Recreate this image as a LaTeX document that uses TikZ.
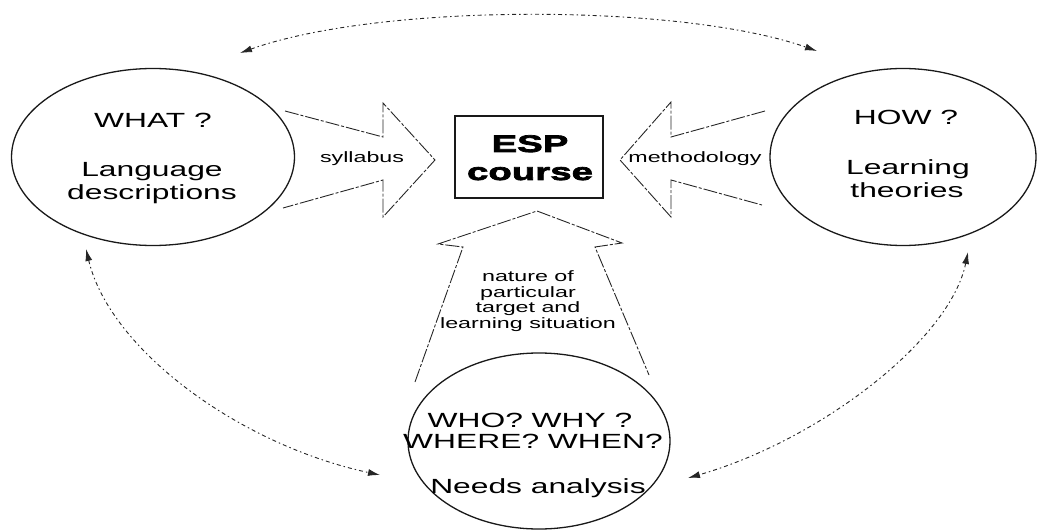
\documentclass[tikz,border=0pt]{standalone}
\usepackage{fontspec}
\setmainfont{Liberation Sans}
\newfontfamily\widefont[FakeStretch=1.55]{Liberation Sans}
\newfontfamily\heavyfont[FakeStretch=1.6,FakeBold=3]{Liberation Sans}
\usetikzlibrary{shapes.geometric,arrows.meta}

\begin{document}
\begin{tikzpicture}[x=1pt,y=-1pt,
  topic/.style={draw=black!90, line width=1.3pt, ellipse, inner sep=0pt},
  big/.style={font=\widefont\fontsize{20.5}{24}\selectfont, anchor=base, inner sep=0pt},
  small/.style={font=\widefont\fontsize{15}{15.5}\selectfont, inner sep=0pt},
  heavy/.style={font=\heavyfont\bfseries\fontsize{24}{28}\selectfont, anchor=base, inner sep=0pt},
  blockarrow/.style={draw=black!85, line width=0.9pt, line join=miter,
    dash pattern=on 14pt off 2pt on 3pt off 2pt},
  link/.style={draw=black!85, line width=0.9pt,
    dash pattern=on 4pt off 3pt on 1.5pt off 3pt,
    {Latex[length=12pt,width=7pt]}-{Latex[length=12pt,width=7pt]}}
]
\useasboundingbox (0,0) rectangle (1037,532);

% the three sources
\node[topic, minimum width=283pt, minimum height=177pt] (what) at (153,157) {};
\node[topic, minimum width=266pt, minimum height=177pt] (how) at (903,157) {};
\node[topic, minimum width=262pt, minimum height=176pt] (who) at (539,441) {};

\node[big] (whatq) at (153,128) {WHAT ?};
\node[big] (lang) at (152,177) {Language};
\node[big] (desc) at (152,200) {descriptions};

\node[big] (howq) at (906,125) {HOW ?};
\node[big] (learn) at (908,175) {Learning};
\node[big] (theo) at (907,197) {theories};

\node[big] (whoq) at (530,427) {WHO? WHY ?};
\node[big] (whereq) at (533,448) {WHERE? WHEN?};
\node[big] (needs) at (538,493) {Needs analysis};

% the course in the middle
\node[draw=black!90, line width=1.3pt, minimum width=148pt, minimum height=82pt, inner sep=0pt] (esp) at (529,157) {};
\node[heavy] (espa) at (530,152) {ESP};
\node[heavy] (espb) at (530,180) {course};

% broad arrows feeding the course
\draw[blockarrow] (285,111) -- (383,137) -- (383,103) -- (435,160) -- (383,217) -- (383,180) -- (283,208);
\draw[blockarrow] (765,111) -- (671,137) -- (671,102) -- (620,160) -- (671,217) -- (671,180) -- (762,205);
\draw[blockarrow] (415,382) -- (463,247) -- (438,244) -- (537,211) -- (622,243) -- (595,247) -- (649,375);

\node[small, anchor=base] (syl) at (362,163) {syllabus};
\node[small, anchor=base] (meth) at (695,163) {methodology};
\node[small, align=center] (nat) at (528,301) {nature of\\particular\\target and\\learning situation};

% two-way links between the sources
\coordinate (a1) at (240,53);
\coordinate (a2) at (817,51);
\coordinate (b1) at (86,249);
\coordinate (b2) at (380,475);
\coordinate (c1) at (968,252);
\coordinate (c2) at (688,478);
\draw[link] (a1) .. controls (380,3) and (680,3) .. (a2);
\draw[link] (b1) .. controls (110,350) and (240,445) .. (b2);
\draw[link] (c1) .. controls (950,340) and (820,440) .. (c2);
\end{tikzpicture}
\end{document}
